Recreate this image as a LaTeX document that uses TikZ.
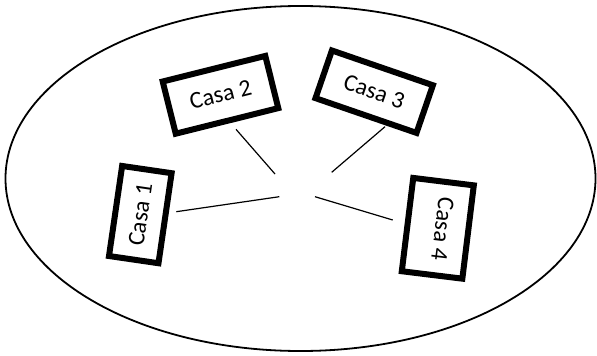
\documentclass[tikz,border=0pt]{standalone}
\usepackage{fontspec}
\setmainfont{Carlito}
\tikzset{
  casa/.style={draw=black, line width=6pt, fill=white, inner sep=0pt,
    font=\fontsize{24}{28}\selectfont},
  link/.style={draw=black, line width=1.2pt},
  border/.style={draw=black, line width=1.8pt}
}
\begin{document}
\begin{tikzpicture}[x=1pt,y=-1pt]
\useasboundingbox (0,0) rectangle (597,356);
\draw[border] (300.5,178.5) ellipse [x radius=295, y radius=172.5];
\node[casa, rotate=81.7, minimum width=91pt, minimum height=50pt] (c1) at (140.3,214.6) {Casa 1};
\node[casa, rotate=14, minimum width=105.7pt, minimum height=53.8pt] (c2) at (220.5,94.8) {Casa 2};
\node[casa, rotate=-19, minimum width=106.8pt, minimum height=50.4pt] (c3) at (374.2,91.7) {Casa 3};
\node[casa, rotate=-97, minimum width=94pt, minimum height=61pt] (c4) at (437.8,228.3) {\raisebox{10pt}{Casa 4}};
\coordinate (a1) at (236,129.3);
\coordinate (a2) at (275,174);
\coordinate (b1) at (385,126.7);
\coordinate (b2) at (331.7,172.3);
\coordinate (e1) at (176.3,211.7);
\coordinate (e2) at (279.3,196.7);
\coordinate (d1) at (315,196.7);
\coordinate (d2) at (392.7,220);
\draw[link] (a1) -- (a2);
\draw[link] (b1) -- (b2);
\draw[link] (e1) -- (e2);
\draw[link] (d1) -- (d2);
\end{tikzpicture}
\end{document}
